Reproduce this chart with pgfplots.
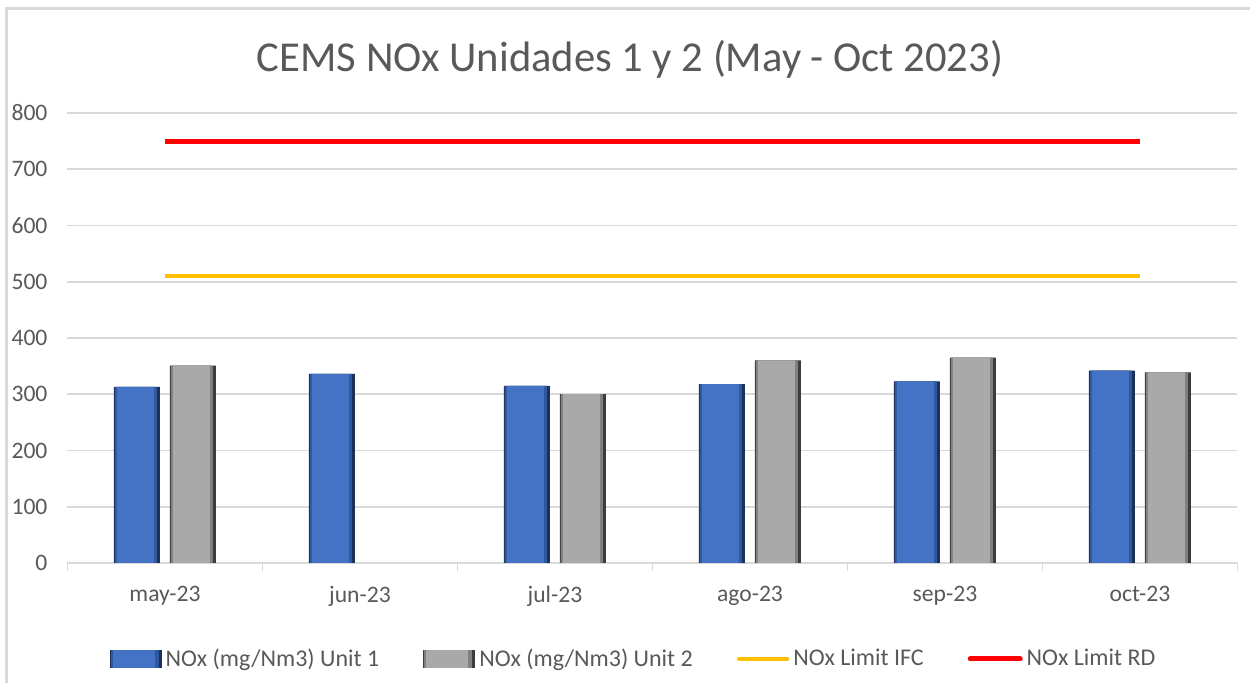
\documentclass[border=0pt]{standalone}
\usepackage{pgfplots}
\pgfplotsset{compat=1.18}
\usepackage{fontspec}
\setmainfont{Carlito}
\definecolor{txt}{HTML}{595959}
\definecolor{gridc}{HTML}{D9D9D9}
\definecolor{bmain}{HTML}{4472C4}
\definecolor{bmed}{HTML}{30589F}
\definecolor{bdark}{HTML}{1C3158}
\definecolor{gmain}{HTML}{A9A9A9}
\definecolor{gmed}{HTML}{808080}
\definecolor{gdark}{HTML}{3C3C3C}
\definecolor{ifc}{HTML}{FFC000}
\definecolor{rd}{HTML}{FF0000}
\begin{document}
\begin{tikzpicture}
\useasboundingbox (-33.75pt,-60pt) rectangle (591.25pt,281.5pt);
\draw[gridc, line width=1.5pt] (-30.25pt,-61pt) -- (-30.25pt,277pt) -- (592pt,277pt);
\begin{axis}[
  at={(0pt,0pt)}, anchor=south west,
  scale only axis, width=585pt, height=225pt,
  xmin=-0.5, xmax=5.5, ymin=0, ymax=800,
  xtick={0,1,2,3,4,5},
  xticklabels={may-23,jun-23,jul-23,ago-23,sep-23,oct-23},
  minor xtick={-0.5,0.5,1.5,2.5,3.5,4.5,5.5},
  ytick={0,100,...,800},
  major tick length=0pt, minor tick length=4pt, tick align=outside,
  tick style={gridc, line width=0.8pt},
  ymajorgrids, grid style={gridc, line width=0.8pt},
  axis x line*=bottom, axis y line*=left,
  x axis line style={gridc, line width=0.8pt},
  y axis line style={draw=none},
  ticklabel style={font=\fontsize{11.8pt}{13pt}\selectfont, text=txt},
  xticklabel style={yshift=-8pt},
  yticklabel style={xshift=-6.5pt},
  /pgf/number format/assume math mode=true,
  legend style={at={(283.5pt,-48pt)}, anchor=center, draw=none,
    legend columns=-1, font=\fontsize{12pt}{14pt}\selectfont, text=txt,
    /tikz/every even column/.append style={column sep=20pt},
    inner xsep=0pt},
  legend cell align=left,
]
% unit 1: dark base + medium + main face
\addplot[ybar, forget plot, bar width=23pt, bar shift=-14pt, draw=none, fill=bdark]
  coordinates {(0,313) (1,336) (2,315) (3,318) (4,323) (5,342)};
\addplot[ybar, forget plot, bar width=21pt, bar shift=-14.5pt, draw=none, fill=bmed]
  coordinates {(0,313) (1,336) (2,315) (3,318) (4,323) (5,342)};
\addplot[ybar, bar width=18.5pt, bar shift=-14.75pt, draw=none, fill=bmain,
  legend image code/.code={\fill[bdark] (0pt,-4.5pt) rectangle (26pt,4.5pt);\fill[bmed] (0.5pt,-4.5pt) rectangle (24.5pt,4.5pt);\fill[bmain] (1.5pt,-4.5pt) rectangle (22.5pt,4.5pt);}]
  coordinates {(0,313) (1,336) (2,315) (3,318) (4,323) (5,342)};
\addlegendentry{NOx (mg/Nm3) Unit 1}
% unit 2
\addplot[ybar, forget plot, bar width=23pt, bar shift=14pt, draw=none, fill=gdark]
  coordinates {(0,351) (2,300) (3,360) (4,365) (5,339)};
\addplot[ybar, forget plot, bar width=21pt, bar shift=13.5pt, draw=none, fill=gmed]
  coordinates {(0,351) (2,300) (3,360) (4,365) (5,339)};
\addplot[ybar, bar width=18.5pt, bar shift=13.25pt, draw=none, fill=gmain,
  legend image code/.code={\fill[gdark] (0pt,-4.5pt) rectangle (26pt,4.5pt);\fill[gmed] (0.5pt,-4.5pt) rectangle (24.5pt,4.5pt);\fill[gmain] (1.5pt,-4.5pt) rectangle (22.5pt,4.5pt);}]
  coordinates {(0,351) (2,300) (3,360) (4,365) (5,339)};
\addlegendentry{NOx (mg/Nm3) Unit 2}
\addplot[ifc, line width=2.2pt, sharp plot, mark=none,
  legend image code/.code={\draw[ifc, line width=2.2pt, line cap=round] (2pt,0pt) -- (26pt,0pt);}]
  coordinates {(0,510) (1,510) (2,510) (3,510) (4,510) (5,510)};
\addlegendentry{NOx Limit IFC}
\addplot[rd, line width=2.5pt, sharp plot, mark=none,
  legend image code/.code={\draw[rd, line width=2.5pt, line cap=round] (2pt,0pt) -- (27pt,0pt);}]
  coordinates {(0,750) (1,750) (2,750) (3,750) (4,750) (5,750)};
\addlegendentry{NOx Limit RD}
\end{axis}
\node[text=txt, font=\fontsize{21.3pt}{24pt}\selectfont] at (281.25pt,252pt) {CEMS NOx Unidades 1 y 2 (May - Oct 2023)};
\end{tikzpicture}
\end{document}
